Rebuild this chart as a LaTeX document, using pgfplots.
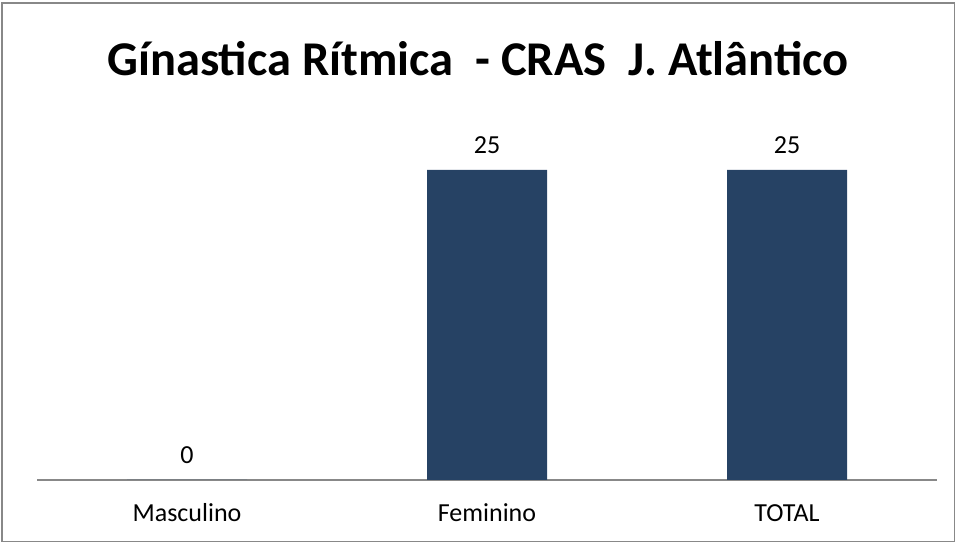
\documentclass[border=0pt]{standalone}
\usepackage{pgfplots}
\pgfplotsset{compat=1.18}
\usepackage{fontspec}
\setmainfont{Carlito}
\definecolor{barc}{HTML}{264264}
\definecolor{axc}{HTML}{888888}
\begin{document}
\begin{tikzpicture}[x=1pt,y=1pt]
\useasboundingbox (-37,-63) rectangle (919,480);
\draw[axc, line width=1.3pt] (-35,-61.5) rectangle (917.5,477);
\begin{axis}[
  at={(0,0)}, anchor=south west,
  scale only axis, width=900pt, height=372pt,
  xmin=-0.5, xmax=2.5, ymin=0, ymax=30,
  axis x line*=bottom, axis y line=none,
  x axis line style={axc, line width=1.5pt, -},
  xtick=data, xticklabels={Masculino,Feminino,TOTAL},
  major tick length=0pt,
  ytick=\empty,
  xticklabel style={font=\fontsize{26}{30}\selectfont, anchor=base, yshift=-41.5pt},
  ybar, bar width=120pt,
  nodes near coords,
  nodes near coords style={font=\fontsize{26}{30}\selectfont, anchor=center, yshift=25pt, black},
  /pgf/number format/assume math mode=true,
  clip=false,
]
\addplot[fill=barc, draw=none] coordinates {(0,0) (1,25) (2,25)};
\end{axis}
\node[font=\bfseries\fontsize{48.5}{58}\selectfont, anchor=center] at (441,421) {Gínastica Rítmica \ - CRAS \ J. Atlântico};
\end{tikzpicture}
\end{document}
